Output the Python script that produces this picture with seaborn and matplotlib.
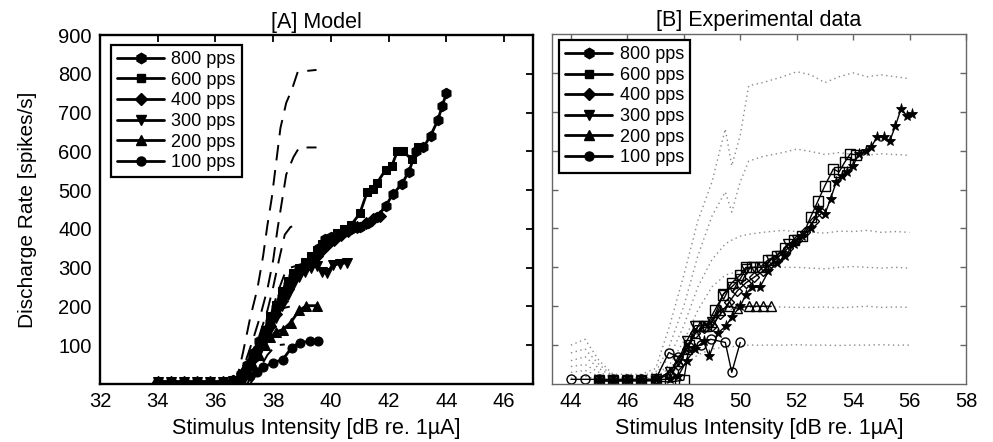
import matplotlib
matplotlib.use("Agg")
import matplotlib.pyplot as plt
import seaborn as sns
import pandas as pd
from matplotlib.lines import Line2D

# ---------------- DATA ----------------
rates = ["800 pps", "600 pps", "400 pps", "300 pps", "200 pps", "100 pps"]
markers_left = ["h", "s", "D", "v", "^", "o"]

# [A] Model - solid series with markers
A800_x = [34.0, 34.45, 34.9, 35.35, 35.8, 36.25, 36.6, 36.9, 37.1, 37.3, 37.5, 37.7, 37.9, 38.1, 38.3, 38.5, 38.7, 38.9, 39.15, 39.4, 39.6, 39.8, 40.0, 40.2, 40.45, 40.7, 41.0, 41.3, 41.6, 41.9, 42.15, 42.45, 42.7, 42.95, 43.2, 43.45, 43.7, 43.85, 44.0]
A800_y = [5, 5, 5, 5, 5, 5, 10, 25, 50, 80, 110, 135, 160, 195, 225, 255, 275, 295, 305, 315, 350, 375, 378, 385, 392, 400, 405, 415, 430, 460, 490, 515, 548, 600, 610, 640, 680, 716, 750]
A600_x = [34.0, 34.45, 34.9, 35.35, 35.8, 36.25, 36.6, 36.9, 37.1, 37.3, 37.5, 37.7, 37.9, 38.1, 38.3, 38.5, 38.7, 38.9, 39.1, 39.3, 39.5, 39.7, 39.95, 40.2, 40.45, 40.7, 41.0, 41.25, 41.45, 41.6, 41.9, 42.1, 42.3, 42.5, 42.8, 43.0]
A600_y = [5, 5, 5, 5, 5, 5, 8, 20, 45, 75, 105, 140, 175, 205, 240, 265, 285, 300, 315, 330, 345, 360, 375, 390, 400, 410, 440, 494, 502, 519, 553, 561, 600, 600, 579, 610]
A400_x = [34.0, 34.45, 34.9, 35.35, 35.8, 36.25, 36.6, 36.9, 37.1, 37.3, 37.5, 37.7, 37.9, 38.1, 38.3, 38.5, 38.7, 38.9, 39.1, 39.3, 39.5, 39.7, 39.9, 40.1, 40.35, 40.6, 40.9, 41.2, 41.45, 41.7]
A400_y = [5, 5, 5, 5, 5, 5, 8, 18, 40, 65, 95, 125, 150, 180, 215, 245, 270, 290, 305, 320, 330, 345, 360, 372, 385, 395, 405, 415, 425, 432]
A300_x = [34.0, 34.45, 34.9, 35.35, 35.8, 36.25, 36.6, 36.9, 37.1, 37.3, 37.5, 37.7, 37.9, 38.1, 38.3, 38.5, 38.7, 38.9, 39.1, 39.3, 39.5, 39.7, 39.85, 40.06, 40.3, 40.55]
A300_y = [5, 5, 5, 5, 5, 5, 8, 15, 35, 60, 85, 115, 140, 170, 200, 230, 255, 275, 290, 300, 305, 290, 285, 307, 310, 313]
A200_x = [34.0, 34.45, 34.9, 35.35, 35.8, 36.25, 36.6, 36.9, 37.1, 37.3, 37.5, 37.7, 37.9, 38.1, 38.33, 38.6, 38.9, 39.15, 39.5]
A200_y = [5, 5, 5, 5, 5, 5, 6, 12, 28, 50, 75, 100, 120, 135, 140, 158, 190, 202, 202]
A100_x = [34.0, 34.45, 34.9, 35.35, 35.8, 36.25, 36.6, 36.9, 37.2, 37.45, 37.65, 38.0, 38.33, 38.64, 38.92, 39.27, 39.55]
A100_y = [5, 5, 5, 5, 5, 5, 5, 10, 20, 30, 43, 55, 63, 94, 107, 110, 110]

# [A] Model - dashed curves
D800_x = [36.7, 36.95, 37.2, 37.45, 37.65, 37.8, 37.95, 38.1, 38.25, 38.45, 38.65, 38.85, 39.5]
D800_y = [0, 80, 170, 245, 330, 410, 480, 570, 660, 725, 760, 805, 810]
D600_x = [36.8, 37.05, 37.3, 37.55, 37.8, 38.0, 38.15, 38.3, 38.45, 38.7, 38.9, 39.5]
D600_y = [0, 60, 115, 175, 245, 320, 400, 470, 540, 585, 610, 610]
D400_x = [36.9, 37.2, 37.5, 37.8, 38.0, 38.2, 38.4, 38.6, 38.85]
D400_y = [0, 50, 120, 190, 250, 320, 385, 405, 410]
D300_x = [37.0, 37.3, 37.6, 37.9, 38.15, 38.4, 38.6, 39.0]
D300_y = [0, 50, 110, 175, 235, 285, 300, 310]
D200_x = [37.1, 37.4, 37.7, 38.0, 38.3, 38.6]
D200_y = [0, 45, 100, 155, 195, 200]
D100_x = [37.2, 37.5, 37.8, 38.1, 38.4]
D100_y = [0, 35, 75, 100, 102]

# [B] Experimental - dotted gray curves
DOT_x = [44.0, 44.5, 45.0, 45.5, 46.0, 46.5, 47.0, 47.5, 48.0, 48.5, 49.0, 49.47, 49.7, 50.0, 50.3, 50.8, 51.5, 52.0, 52.5, 53.0, 53.5, 54.0, 54.5, 55.0, 55.5, 56.0]
DOT800_y = [100, 115, 60, 25, 25, 25, 40, 150, 280, 420, 520, 656, 561, 640, 767, 775, 790, 803, 795, 775, 790, 800, 790, 795, 790, 785]
DOT600_y = [80, 90, 50, 20, 20, 22, 30, 100, 200, 330, 432, 494, 442, 520, 573, 585, 595, 604, 598, 590, 595, 590, 588, 592, 590, 588]
DOT400_y = [60, 70, 40, 18, 18, 20, 25, 70, 150, 250, 320, 360, 370, 380, 385, 390, 395, 392, 390, 388, 393, 392, 395, 390, 392, 390]
DOT300_y = [45, 50, 30, 15, 15, 18, 22, 50, 110, 190, 250, 280, 285, 290, 295, 298, 300, 300, 298, 296, 300, 302, 300, 298, 300, 298]
DOT200_y = [30, 35, 20, 12, 12, 15, 18, 40, 80, 130, 170, 190, 192, 195, 197, 198, 198, 197, 197, 198, 196, 198, 200, 197, 198, 197]
DOT100_y = [15, 20, 12, 10, 10, 12, 15, 25, 50, 75, 90, 95, 96, 98, 100, 100, 100, 101, 100, 100, 99, 100, 100, 101, 100, 100]

# [B] Experimental - measured series
B800_x = [45.0, 45.5, 46.0, 46.5, 47.0, 47.5, 47.8, 48.1, 48.4, 48.7, 48.9, 49.2, 49.5, 49.7, 50.0, 50.2, 50.4, 50.7, 51.0, 51.3, 51.6, 51.9, 52.2, 52.5, 52.75, 53.0, 53.2, 53.4, 53.6, 53.8, 54.0, 54.2, 54.45, 54.65, 54.85, 55.1, 55.3, 55.5, 55.7, 55.9, 56.1]
B800_y = [8, 8, 8, 10, 12, 12, 20, 60, 90, 110, 71, 130, 150, 172, 200, 230, 249, 249, 290, 310, 330, 360, 380, 400, 450, 437, 476, 519, 535, 545, 561, 592, 600, 610, 636, 636, 625, 664, 708, 690, 695]
B600_x = [45.0, 45.5, 46.0, 46.5, 47.0, 47.5, 48.0, 48.2, 48.5, 48.8, 49.1, 49.4, 49.7, 50.0, 50.2, 50.4, 50.7, 51.0, 51.3, 51.6, 51.9, 52.2, 52.5, 52.75, 53.0, 53.3, 53.5, 53.7, 53.9, 54.1]
B600_y = [8, 8, 8, 8, 8, 5, 10, 100, 150, 150, 190, 230, 260, 280, 300, 300, 300, 320, 330, 350, 370, 380, 430, 470, 510, 553, 545, 570, 592, 589]
B400_x = [45.0, 45.5, 46.0, 46.5, 47.0, 47.5, 47.8, 48.1, 48.4, 48.7, 49.0, 49.3, 49.6, 49.9, 50.2, 50.5, 50.8, 51.1, 51.4, 51.7, 52.0, 52.3, 52.6, 52.9]
B400_y = [10, 10, 10, 10, 10, 25, 50, 90, 130, 145, 150, 180, 210, 240, 260, 275, 290, 310, 330, 350, 370, 390, 420, 440]
B300_x = [45.0, 45.5, 46.0, 46.5, 47.0, 47.5, 47.8, 48.1, 48.4, 48.7, 49.0, 49.4, 49.7, 50.0, 50.2, 50.5, 50.8, 51.1, 51.4, 51.7, 52.0]
B300_y = [10, 10, 10, 10, 12, 30, 60, 110, 150, 150, 160, 231, 250, 270, 296, 300, 300, 320, 330, 360, 370]
B200_x = [45.0, 45.5, 46.0, 46.5, 47.0, 47.5, 47.8, 48.1, 48.4, 48.7, 49.0, 49.3, 49.6, 49.9, 50.3, 50.55, 50.8, 51.1]
B200_y = [10, 10, 10, 10, 12, 30, 60, 90, 130, 150, 160, 190, 200, 195, 200, 200, 200, 200]
B100_x = [44.0, 44.5, 45.0, 45.5, 46.0, 46.5, 47.0, 47.47, 47.8, 48.2, 48.6, 48.95, 49.47, 49.7, 50.0]
B100_y = [12, 12, 12, 12, 12, 12, 12, 81, 70, 95, 100, 115, 107, 30, 107]

xticks_A = [32, 34, 36, 38, 40, 42, 44, 46]
xticks_B = [44, 46, 48, 50, 52, 54, 56, 58]
yticks = [100, 200, 300, 400, 500, 600, 700, 800, 900]

# ---------------- STYLE ----------------
sns.set_theme(style="white")
plt.rcParams["font.family"] = ["Liberation Sans", "DejaVu Sans"]
plt.rcParams["axes.unicode_minus"] = False
for k in ["text.color", "axes.labelcolor", "xtick.color", "ytick.color"]:
    plt.rcParams[k] = "black"

fig = plt.figure(figsize=(9.93, 4.42), dpi=100)
axA = fig.add_axes([0.1007, 0.1312, 0.4361, 0.7896])
axB = fig.add_axes([0.5559, 0.1312, 0.4169, 0.7919])


def line(ax, x, y, **kw):
    df = pd.DataFrame({"x": x, "y": y})
    sns.lineplot(data=df, x="x", y="y", ax=ax, estimator=None, sort=False,
                 legend=False, **kw)


# ---- Panel A ----
dashed = [(D800_x, D800_y), (D600_x, D600_y), (D400_x, D400_y),
          (D300_x, D300_y), (D200_x, D200_y), (D100_x, D100_y)]
for dx, dy in dashed:
    line(axA, dx, dy, color="black", lw=1.4, linestyle=(0, (8, 5)))

solidA = [(A800_x, A800_y), (A600_x, A600_y), (A400_x, A400_y),
          (A300_x, A300_y), (A200_x, A200_y), (A100_x, A100_y)]
msA = [7.5, 6, 6, 7, 7, 6.5]
for (sx, sy), m, ms in zip(solidA, markers_left, msA):
    line(axA, sx, sy, color="black", lw=2.0, marker=m, markersize=ms,
         markerfacecolor="black", markeredgecolor="black")

axA.set_xlim(32, 47)
axA.set_ylim(0, 900)
axA.set_xticks(xticks_A)
axA.set_yticks(yticks)
axA.set_xticklabels([str(t) for t in xticks_A])
axA.set_yticklabels([str(t) for t in yticks])
axA.tick_params(direction="in", top=True, right=True, length=5, width=1.3,
                labelsize=14.5, pad=6, colors="black")
for s in axA.spines.values():
    s.set_linewidth(1.7)
    s.set_color("black")
axA.set_xlabel("Stimulus Intensity [dB re. 1µA]", fontsize=15.5, labelpad=5)
axA.set_ylabel("Discharge Rate [spikes/s]", fontsize=15, labelpad=15)
axA.set_title("[A] Model", fontsize=15.5, pad=5)

handles = [Line2D([0], [0], color="black", lw=2.0, marker=m, markersize=ms,
                  markerfacecolor="black", markeredgecolor="black")
           for m, ms in zip(markers_left, msA)]
legA = axA.legend(handles, rates, loc="upper left", bbox_to_anchor=(0.025, 0.972),
                  borderaxespad=0, fancybox=False, framealpha=1, edgecolor="black",
                  fontsize=13, handlelength=2.6, labelspacing=0.2, borderpad=0.35,
                  handletextpad=0.4)
legA.get_frame().set_linewidth(1.6)

# ---- Panel B ----
for dy in [DOT800_y, DOT600_y, DOT400_y, DOT300_y, DOT200_y, DOT100_y]:
    line(axB, DOT_x, dy, color="#8a8a8a", lw=1.0, linestyle=(0, (1, 2.5)))

open_series = [(B600_x, B600_y, "s"), (B400_x, B400_y, "D"), (B300_x, B300_y, "v"),
               (B200_x, B200_y, "^"), (B100_x, B100_y, "o")]
for bx, by, m in open_series:
    line(axB, bx, by, color="black", lw=1.0, marker=m, markersize=6.5 if m != "D" else 5,
         markerfacecolor="none", markeredgecolor="black", markeredgewidth=1.0)
line(axB, B800_x, B800_y, color="black", lw=1.0, marker="*", markersize=8,
     markerfacecolor="black", markeredgecolor="black", markeredgewidth=0.6)

axB.set_xlim(43.33, 57.86)
axB.set_ylim(0, 900)
axB.set_xticks(xticks_B)
axB.set_xticklabels([str(t) for t in xticks_B])
axB.set_yticks(yticks[:-1])
axB.set_yticklabels([])
axB.tick_params(axis="x", direction="in", top=True, length=4, width=1.0,
                labelsize=14.5, pad=6, color="#666666", labelcolor="black")
axB.tick_params(axis="y", direction="in", left=True, right=True, length=4, width=1.0,
                color="#666666")
for s in axB.spines.values():
    s.set_linewidth(1.0)
    s.set_color("#666666")
axB.set_xlabel("Stimulus Intensity [dB re. 1µA]", fontsize=15.5, labelpad=5)
axB.set_ylabel("")
axB.set_title("[B] Experimental data", fontsize=15.5, pad=6)

legB = axB.legend(handles, rates, loc="upper left", bbox_to_anchor=(0.017, 0.983),
                  borderaxespad=0, fancybox=False, framealpha=1, edgecolor="black",
                  fontsize=13, handlelength=2.6, labelspacing=0.2, borderpad=0.35,
                  handletextpad=0.4)
legB.get_frame().set_linewidth(1.6)

fig.savefig("out.png", dpi=100)
